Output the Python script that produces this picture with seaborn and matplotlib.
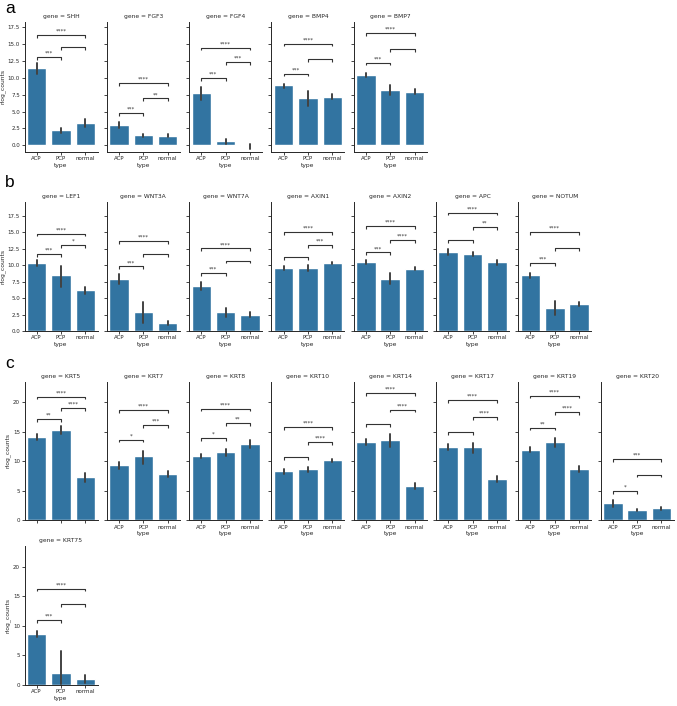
import matplotlib
matplotlib.use("Agg")
import matplotlib.pyplot as plt
import numpy as np
import pandas as pd
import seaborn as sns

sns.set_theme(style="ticks")
plt.rcParams['font.family'] = ['DejaVu Sans']

TYPES = ["ACP", "PCP", "normal"]
PAIRS = [(0, 1), (1, 2), (0, 2)]

# ---- panel a ----
A_GENES = ["SHH", "FGF3", "FGF4", "BMP4", "BMP7"]
A_MEAN = [[11.4, 2.2, 3.3], [3.0, 1.48, 1.43], [7.73, 0.59, -0.15], [8.87, 7.04, 7.19], [10.44, 8.18, 7.93]]
A_LO = [[10.6, 1.8, 2.7], [2.56, 1.28, 1.23], [6.75, 0.25, -0.5], [8.57, 5.86, 6.85], [10.15, 7.49, 7.54]]
A_HI = [[12.2, 2.6, 3.9], [3.4, 1.67, 1.63], [8.6, 0.94, 0.2], [9.16, 7.98, 7.59], [10.74, 8.87, 8.28]]
A_STARS = [["***", "", "****"], ["***", "**", "****"], ["***", "***", "****"], ["***", "", "****"], ["***", "", "****"]]
A_LEVELS = [[13.05, 14.6, 16.35], [4.73, 6.95, 9.2], [9.95, 12.3, 14.5], [10.64, 12.76, 15.07], [12.27, 14.29, 16.65]]
A_YTICKS = [0.0, 2.5, 5.0, 7.5, 10.0, 12.5, 15.0, 17.5]

# ---- panel b ----
B_GENES = ["LEF1", "WNT3A", "WNT7A", "AXIN1", "AXIN2", "APC", "NOTUM"]
B_MEAN = [[10.34, 8.47, 6.2], [7.92, 2.87, 1.26], [6.86, 2.82, 2.47], [9.58, 9.58, 10.34],
          [10.44, 7.97, 9.48], [12.05, 11.7, 10.44], [8.47, 3.53, 4.08]]
B_LO = [[9.93, 6.71, 5.7], [7.16, 1.21, 0.96], [6.2, 2.17, 2.12], [9.28, 9.18, 10.14],
        [10.14, 7.16, 9.33], [11.55, 11.45, 10.09], [8.07, 2.47, 3.78]]
B_HI = [[10.74, 9.83, 6.71], [8.67, 4.44, 1.51], [7.51, 3.48, 2.87], [9.88, 9.98, 10.54],
        [10.74, 8.82, 9.68], [12.5, 12.0, 10.79], [8.82, 4.64, 4.39]]
B_STARS = [["***", "*", "****"], ["***", "", "****"], ["***", "", "****"], ["", "***", "****"],
           ["***", "****", "****"], ["", "**", "****"], ["***", "", "****"]]
B_LEVELS = [[11.7, 13.1, 14.83], [9.83, 11.75, 13.72], [8.77, 10.69, 12.56], [11.2, 13.1, 15.08],
            [11.95, 13.87, 15.94], [13.82, 15.83, 18.0], [10.34, 12.66, 15.08]]
B_YTICKS = [0.0, 2.5, 5.0, 7.5, 10.0, 12.5, 15.0, 17.5]

# ---- panel c ----
C_GENES = ["KRT5", "KRT7", "KRT8", "KRT10", "KRT14", "KRT17", "KRT19", "KRT20", "KRT75"]
C_MEAN = [[14.12, 15.35, 7.28], [9.36, 10.87, 7.84], [10.92, 11.54, 12.94], [8.29, 8.63, 10.14],
          [13.22, 13.67, 5.88], [12.38, 12.38, 6.95], [11.93, 13.22, 8.68], [2.86, 1.74, 2.02],
          [8.67, 2.1, 1.02]]
C_LO = [[13.67, 14.68, 6.55], [8.74, 9.47, 7.28], [10.59, 10.98, 12.27], [7.9, 8.24, 9.92],
        [12.72, 12.38, 5.32], [11.88, 11.43, 6.44], [11.54, 12.38, 8.18], [2.3, 1.57, 1.79],
        [8.1, 0.25, 0.4]]
C_HI = [[14.57, 16.0, 7.96], [9.92, 11.82, 8.35], [11.26, 12.1, 13.56], [8.68, 9.02, 10.42],
        [13.78, 14.62, 6.39], [12.89, 13.17, 7.51], [12.38, 14.0, 9.19], [3.42, 1.9, 2.24],
        [9.18, 5.75, 1.7]]
C_STARS = [["**", "****", "****"], ["*", "***", "****"], ["*", "**", "****"], ["", "****", "****"],
           ["", "****", "****"], ["", "****", "****"], ["**", "****", "****"], ["*", "", "***"],
           ["***", "", "****"]]
C_LEVELS = [[17.2, 19.05, 20.95], [13.67, 16.13, 18.71], [13.89, 16.53, 18.94], [10.76, 13.28, 15.8],
            [16.36, 18.77, 21.51], [14.96, 17.54, 20.34], [15.69, 18.38, 21.12], [4.93, 7.73, 10.42],
            [10.93, 13.65, 16.3]]
C_YTICKS = [0, 5, 10, 15, 20]

W, H = 677, 706
fig = plt.figure(figsize=(W / 100, H / 100), dpi=100)

AX_W = 73.0
STEP = 82.3
LEFT0 = 24.5
BAR_COLOR = "#1f77b4"
LINE_C = "0.2"


def add_ax(col, top, bottom):
    left = LEFT0 + STEP * col
    return fig.add_axes([left / W, 1 - bottom / H, AX_W / W, (bottom - top) / H])


def draw(ax, gene, mean, lo, hi, stars, levels, ylim, yticks, show_y, show_x, px_h):
    df = pd.DataFrame({
        "type": TYPES * 3,
        "rlog_counts": list(lo) + list(mean) + list(hi),
    })
    sns.barplot(data=df, x="type", y="rlog_counts", order=TYPES, estimator="median",
                errorbar=("pi", 100), color=BAR_COLOR, width=0.8, ax=ax,
                err_kws={"linewidth": 1.4, "color": ".26"})
    ax.set_ylim(*ylim)
    ax.set_xlim(-0.5, 2.5)
    ax.set_yticks(yticks)
    if all(float(t).is_integer() for t in yticks) and max(yticks) >= 20:
        ax.set_yticklabels([f"{int(t)}" for t in yticks])
    else:
        ax.set_yticklabels([f"{t:.1f}" for t in yticks])
    sns.despine(ax=ax)
    for s in ("left", "bottom"):
        ax.spines[s].set_linewidth(0.7)
        ax.spines[s].set_color("0.15")
    ax.tick_params(axis="both", labelsize=4.0, length=2.0, width=0.6, pad=1.2, colors="0.15")
    ax.set_title(f"gene = {gene}", fontsize=4.35, pad=2.6, color="0.15")
    if show_y:
        ax.set_ylabel("rlog_counts", fontsize=4.35, labelpad=2.0, color="0.15")
    else:
        ax.set_ylabel("")
        ax.tick_params(axis="y", labelleft=False)
    if show_x:
        ax.set_xlabel("type", fontsize=4.35, labelpad=1.0, color="0.15")
    else:
        ax.set_xlabel("")
        ax.tick_params(axis="x", labelbottom=False)
    # significance brackets
    span = ylim[1] - ylim[0]
    ax_h_px = ax.get_position().height * H
    tick_h = 2.7 * span / ax_h_px
    for (a, b), st, lv in zip(PAIRS, stars, levels):
        ax.plot([a, a, b, b], [lv - tick_h, lv, lv, lv - tick_h], color=LINE_C, lw=0.8,
                solid_capstyle="butt", clip_on=False)
        if st:
            ax.text((a + b) / 2, lv + 0.2 * span / 19, st, ha="center", va="bottom",
                    fontsize=4.0, color=LINE_C)


# panel a
for i, g in enumerate(A_GENES):
    ax = add_ax(i, 21.7, 151.7)
    draw(ax, g, A_MEAN[i], A_LO[i], A_HI[i], A_STARS[i], A_LEVELS[i], (-0.95, 18.33), A_YTICKS,
         i == 0, True, None)

# panel b
for i, g in enumerate(B_GENES):
    ax = add_ax(i, 201.7, 331.0)
    draw(ax, g, B_MEAN[i], B_LO[i], B_HI[i], B_STARS[i], B_LEVELS[i], (0, 19.68), B_YTICKS,
         i == 0, True, None)

# panel c
for i, g in enumerate(C_GENES):
    if i < 8:
        ax = add_ax(i, 381.7, 520.3)
        show_x = i != 0
        show_y = i == 0
    else:
        ax = add_ax(i - 8, 546.0, 685.0)
        show_x = True
        show_y = True
    draw(ax, g, C_MEAN[i], C_LO[i], C_HI[i], C_STARS[i], C_LEVELS[i], (0, 23.5), C_YTICKS,
         show_y, show_x, None)

for lab, y in (("a", 1.0), ("b", 175.0), ("c", 356.0)):
    fig.text(5 / W, 1 - y / H, lab, fontsize=12.5, family=["Liberation Sans", "DejaVu Sans"],
             ha="left", va="top", color="black")

fig.savefig("out.png", dpi=100)
